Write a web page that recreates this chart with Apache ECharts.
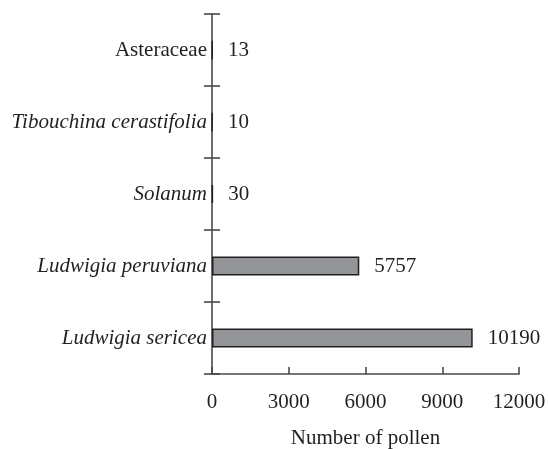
<!DOCTYPE html>
<html>
<head>
<meta charset="utf-8">
<script src="https://cdn.jsdelivr.net/npm/echarts@6/dist/echarts.min.js"></script>
<style>html,body{margin:0;padding:0;background:#fff}#c{width:548px;height:449px}</style>
</head>
<body>
<div id="c"></div>
<script>
const categories = ['Ludwigia sericea', 'Ludwigia peruviana', 'Solanum', 'Tibouchina cerastifolia', 'Asteraceae'];
const italicFlags = [true, true, true, true, false];
const pollenCounts = [10190, 5757, 30, 10, 13];
const xTicks = { min: 0, max: 12000, interval: 3000 };
const axisTitle = 'Number of pollen';

const font = 'Liberation Serif, Times New Roman, serif';
const fs = 21;
const textColor = '#231f20';
const axisColor = '#4a4a4a';
const gridBox = { left: 212, top: 14, width: 307, height: 360 };

const chart = echarts.init(document.getElementById('c'));
chart.setOption({
  animation: false,
  grid: [
    Object.assign({ outerBoundsMode: 'none' }, gridBox),
    Object.assign({ outerBoundsMode: 'none' }, gridBox)
  ],
  xAxis: [{
    gridIndex: 0,
    type: 'value',
    min: xTicks.min, max: xTicks.max, interval: xTicks.interval,
    axisLine: { show: true, lineStyle: { color: axisColor, width: 1.6 } },
    axisTick: { show: true, inside: true, length: 7, lineStyle: { color: axisColor, width: 1.6 } },
    splitLine: { show: false },
    axisLabel: { margin: 18, color: textColor, fontFamily: font, fontSize: fs, formatter: function (v) { return String(v); } },
    name: axisTitle,
    nameLocation: 'middle',
    nameGap: 54,
    nameTextStyle: { color: textColor, fontFamily: font, fontSize: fs }
  }, {
    gridIndex: 1,
    type: 'value',
    min: xTicks.min, max: xTicks.max,
    show: false
  }],
  yAxis: [{
    gridIndex: 0,
    type: 'category',
    data: categories,
    boundaryGap: true,
    axisLine: { show: true, lineStyle: { color: axisColor, width: 1.6 } },
    axisTick: { show: true, length: 8, lineStyle: { color: axisColor, width: 1.6 } },
    axisLabel: {
      margin: 5,
      color: textColor,
      fontFamily: font,
      fontSize: fs,
      formatter: function (v, i) { return italicFlags[i] ? '{i|' + v + '}' : '{n|' + v + '}'; },
      rich: {
        i: { fontStyle: 'italic', fontFamily: font, fontSize: fs, color: textColor },
        n: { fontStyle: 'normal', fontFamily: font, fontSize: fs, color: textColor }
      }
    }
  }, {
    gridIndex: 1,
    type: 'category',
    data: categories,
    boundaryGap: true,
    axisLine: { show: false },
    axisTick: { show: true, inside: true, length: 8, lineStyle: { color: axisColor, width: 1.6 } },
    axisLabel: { show: false }
  }],
  series: [{
    type: 'bar',
    xAxisIndex: 0,
    yAxisIndex: 0,
    data: pollenCounts,
    barWidth: 19,
    itemStyle: { color: '#939598', borderColor: '#231f20', borderWidth: 1.5 },
    label: {
      show: true,
      position: 'right',
      distance: 15,
      color: textColor,
      fontFamily: font,
      fontSize: fs
    }
  }]
});
</script>
</body>
</html>
